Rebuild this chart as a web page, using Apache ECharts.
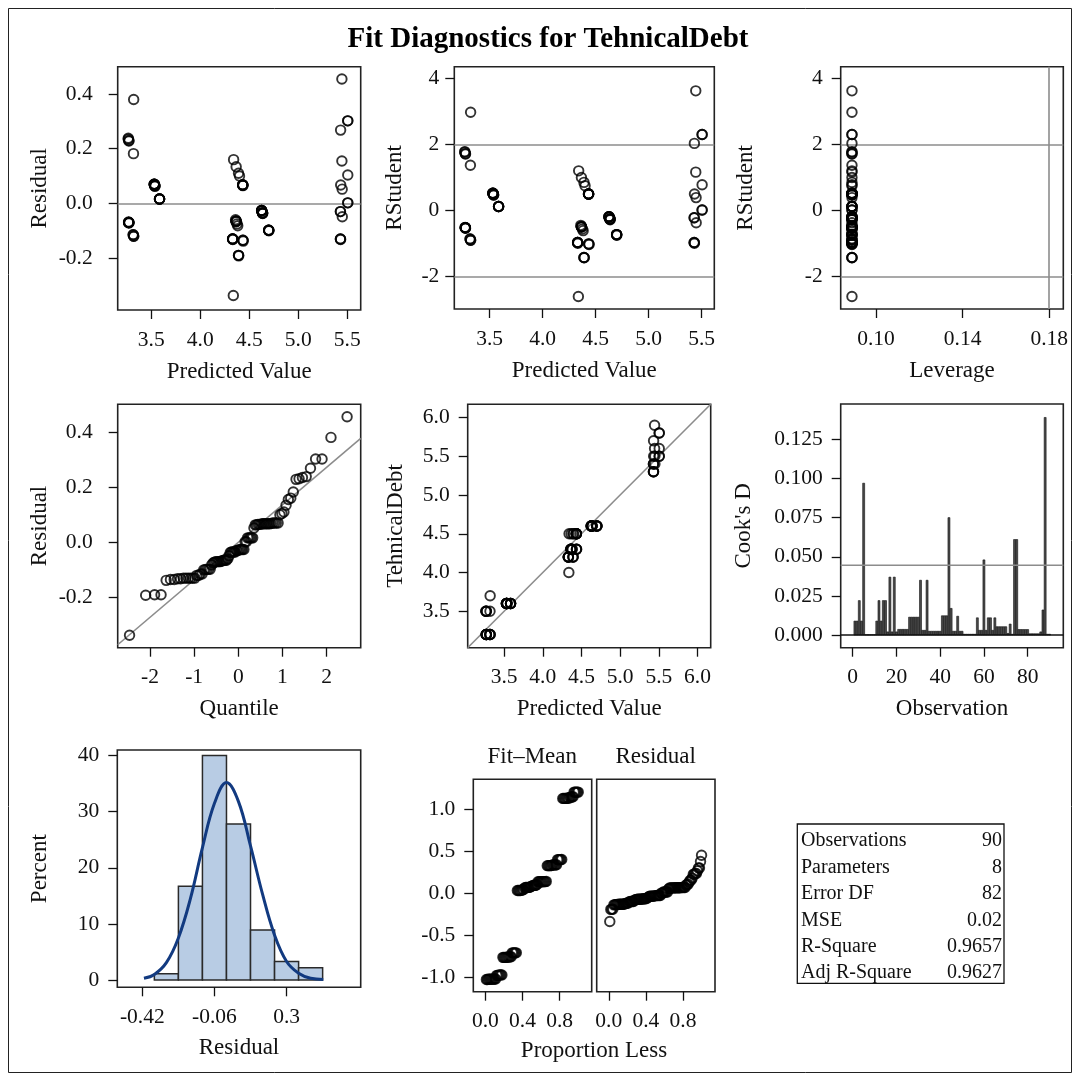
<!DOCTYPE html>
<html><head><meta charset="utf-8">
<script src="https://cdn.jsdelivr.net/npm/echarts@6/dist/echarts.min.js"></script>
<style>html,body{margin:0;padding:0;background:#fff}#c{width:1080px;height:1081px}</style>
</head><body><div id="c"></div>
<script>
// ---------------- DATA ----------------
const obsPred = [
 3.32,3.32,3.318,4.39,3.32, 3.584,3.584,3.584,3.584,3.584,
 3.315,4.39,3.315,4.39,4.392, 4.433,3.265,4.433,3.265,4.36,
 3.27,3.27,3.272,3.27,3.268, 4.33,4.33,4.332,4.33,4.33,
 3.272,3.535,3.537,3.27,4.365, 4.365,4.367,4.433,4.433,4.435,
 4.366,4.435,4.435,4.337,5.445, 4.365,4.375,4.438,4.382,4.433,
 4.626,4.626,4.628,4.626,4.626, 5.505,5.43,3.535,3.537,5.432,
 5.433,5.43,5.432,5.448,5.505, 4.698,4.698,4.70,4.698,4.698,
 5.449,4.40,5.505,5.505,5.505, 3.53,3.53,3.532,3.53,3.53,
 4.635,4.635,4.637,4.635,4.635, 3.27,4.34,5.445,5.43,5.43
];
const obsResid = [
 -0.12,-0.12,0.182,0.11,0.38, 0.016,0.016,0.016,0.016,0.016,
 -0.115,-0.19,-0.115,-0.19,-0.192, 0.067,0.235,0.067,0.238,-0.06,
 -0.07,-0.07,-0.072,-0.07,-0.068, -0.13,-0.13,-0.132,-0.13,-0.13,
 0.228,0.065,0.063,0.23,-0.065, -0.065,-0.067,0.067,0.067,0.065,
 0.134,-0.135,-0.135,-0.337,0.155, -0.065,-0.075,-0.138,-0.082,0.067,
 -0.026,-0.026,-0.028,-0.026,-0.026, 0.002,-0.13,0.065,0.063,0.268,
 0.067,-0.13,-0.132,0.052,0.104, -0.098,-0.098,-0.10,-0.098,-0.098,
 -0.049,0.10,0.002,0.302,0.302, 0.07,0.07,0.068,0.07,0.07,
 -0.035,-0.035,-0.037,-0.035,-0.035, -0.07,0.16,0.455,-0.03,-0.03
];
const obsRStudent = [
 -0.90,-0.90,1.37,0.85,2.97, 0.12,0.12,0.12,0.12,0.12,
 -0.86,-1.42,-0.86,-1.42,-1.43, 0.50,1.76,0.50,1.78,-0.45,
 -0.52,-0.52,-0.54,-0.52,-0.51, -0.97,-0.97,-0.99,-0.97,-0.97,
 1.71,0.49,0.47,1.72,-0.49, -0.49,-0.50,0.50,0.50,0.49,
 1.00,-1.01,-1.01,-2.60,1.16, -0.49,-0.56,-1.03,-0.61,0.50,
 -0.19,-0.19,-0.21,-0.19,-0.19, 0.015,-0.97,0.49,0.47,2.03,
 0.50,-0.97,-0.99,0.39,0.78, -0.73,-0.73,-0.75,-0.73,-0.73,
 -0.37,0.75,0.015,2.30,2.30, 0.52,0.52,0.51,0.52,0.52,
 -0.26,-0.26,-0.28,-0.26,-0.26, -0.52,1.20,3.62,-0.22,-0.22
];
const obsLeverage = [
 0.0889,0.0889,0.0889,0.0889,0.0889,0.0889,0.0889,0.0889,0.0889,0.0889,
 0.0889,0.0889,0.0889,0.0889,0.0889,0.0889,0.0889,0.0889,0.0889,0.0889,
 0.0889,0.0889,0.0889,0.0889,0.0889,0.0889,0.0889,0.0889,0.0889,0.0889,
 0.0889,0.0889,0.0889,0.0889,0.0889,0.0889,0.0889,0.0889,0.0889,0.0889,
 0.0889,0.0889,0.0889,0.0889,0.0889,0.0889,0.0889,0.0889,0.0889,0.0889,
 0.0889,0.0889,0.0889,0.0889,0.0889,0.0889,0.0889,0.0889,0.0889,0.0889,
 0.0889,0.0889,0.0889,0.0889,0.0889,0.0889,0.0889,0.0889,0.0889,0.0889,
 0.0889,0.0889,0.0889,0.0889,0.0889,0.0889,0.0889,0.0889,0.0889,0.0889,
 0.0889,0.0889,0.0889,0.0889,0.0889,0.0889,0.0889,0.0889,0.0889,0.0889
];
const obsCooksD = [
 0.0089,0.0089,0.022,0.0089,0.097, 0.0002,0.0002,0.0002,0.0002,0.0002,
 0.0089,0.022,0.0089,0.022,0.022, 0.002,0.037,0.002,0.037,0.002,
 0.0036,0.0036,0.0036,0.0036,0.0036, 0.0114,0.0114,0.0114,0.0114,0.0114,
 0.035,0.003,0.003,0.035,0.0024, 0.0024,0.0024,0.0024,0.0024,0.0024,
 0.0123,0.0123,0.0123,0.075,0.017, 0.0024,0.0024,0.012,0.0024,0.0024,
 0.0005,0.0005,0.0005,0.0005,0.0005, 0.0005,0.011,0.003,0.003,0.048,
 0.003,0.011,0.011,0.003,0.011, 0.0053,0.0053,0.0053,0.0053,0.0053,
 0.001,0.007,0.0005,0.061,0.061, 0.0035,0.0035,0.0035,0.0035,0.0035,
 0.0008,0.0008,0.0008,0.0008,0.0008, 0.002,0.016,0.139,0.0005,0.0005
];
const obsActual = [
 3.2,3.2,3.5,4.5,3.7, 3.6,3.6,3.6,3.6,3.6,
 3.2,4.2,3.2,4.2,4.2, 4.5,3.5,4.5,3.5,4.3,
 3.2,3.2,3.2,3.2,3.2, 4.2,4.2,4.2,4.2,4.2,
 3.5,3.6,3.6,3.5,4.3, 4.3,4.3,4.5,4.5,4.5,
 4.5,4.3,4.3,4.0,5.6, 4.3,4.3,4.3,4.3,4.5,
 4.6,4.6,4.6,4.6,4.6, 5.5,5.3,3.6,3.6,5.7,
 5.5,5.3,5.3,5.5,5.6, 4.6,4.6,4.6,4.6,4.6,
 5.4,4.5,5.5,5.8,5.8, 3.6,3.6,3.6,3.6,3.6,
 4.6,4.6,4.6,4.6,4.6, 3.2,4.5,5.9,5.4,5.4
];
// normal quantiles of the Q-Q panel (x positions of the ranked residuals)
const qqQuantile = [
 -2.462,-2.097,-1.895,-1.749,-1.633,-1.536,-1.451,-1.375,-1.307,-1.244,
 -1.187,-1.132,-1.080,-1.032,-0.986,-0.942,-0.900,-0.859,-0.819,-0.781,
 -0.744,-0.708,-0.672,-0.638,-0.604,-0.571,-0.539,-0.507,-0.476,-0.445,
 -0.414,-0.384,-0.354,-0.325,-0.296,-0.267,-0.238,-0.210,-0.182,-0.154,
 -0.126,-0.097,-0.070,-0.042,-0.014,0.014,0.042,0.070,0.097,0.126,
 0.154,0.182,0.210,0.238,0.267,0.296,0.325,0.354,0.384,0.414,
 0.445,0.476,0.507,0.539,0.571,0.604,0.638,0.672,0.708,0.744,
 0.781,0.819,0.859,0.900,0.942,0.986,1.032,1.080,1.132,1.187,
 1.244,1.307,1.375,1.451,1.536,1.633,1.749,1.895,2.097,2.462
];
const qqLineSlope = 0.136;      // reference line (sigma)
const rstudRefLines = [-2, 2];
const leverageCutoff = 0.1778;
const cooksCutoff = 0.0446;

const histMid = [-0.30,-0.18,-0.06,0.06,0.18,0.30,0.42];
const histPct = [1.1,16.7,40.0,27.8,8.9,3.3,2.2];
const histBinWidth = 0.12;
const normCurveX = [-0.412,-0.36,-0.30,-0.24,-0.18,-0.12,-0.06,0.0,0.06,0.12,0.18,0.24,0.30,0.36,0.42,0.483];
const normCurveY = [0.3,1.0,3.1,7.5,14.5,23.6,31.5,35.2,31.8,23.9,15.3,8.0,3.3,1.2,0.3,0.1];

const statLabels = ['Observations','Parameters','Error DF','MSE','R-Square','Adj R-Square'];
const statValues = ['90','8','82','0.02','0.9657','0.9627'];

// tick labels
const predTicks = [3.5,4.0,4.5,5.0,5.5];
const residTicks = [-0.2,0.0,0.2,0.4];
const rstudTicks = [-2,0,2,4];
const levTicks = [0.10,0.14,0.18];
const qqTicks = [-2,-1,0,1,2];
const p5Ticks = [3.5,4.0,4.5,5.0,5.5,6.0];
const obsTicks = [0,20,40,60,80];
const cookTicks = [0,0.025,0.05,0.075,0.1,0.125];
const histXTicks = [-0.42,-0.06,0.3];
const pctTicks = [0,10,20,30,40];
const propTicks = [0,0.4,0.8];
const fmTicks = [-1,-0.5,0,0.5,1];

// ---------------- CHART ----------------
const FONT = '"Liberation Serif","Times New Roman",serif';
const TFS = 21.5, NFS = 23, INK = '#111';
const n = obsPred.length;
const sortedResid = obsResid.slice().sort((a,b)=>a-b);
const meanPred = obsPred.reduce((s,v)=>s+v,0)/n;
const sortedFitMean = obsPred.map(v=>v-meanPred).sort((a,b)=>a-b);
const propLess = sortedResid.map((v,i)=>(i+1)/n);

const grids = [
 {left:117.7, top:66.7, width:243, height:243.3},
 {left:454.3, top:66.7, width:260, height:242.3},
 {left:840.7, top:66.7, width:222.6, height:242.3},
 {left:117.7, top:404.3, width:243, height:243.4},
 {left:467.7, top:404.3, width:243, height:243.4},
 {left:840.7, top:404.0, width:222.6, height:243.7},
 {left:117.3, top:750.0, width:243.4, height:237.3},
 {left:473.3, top:779.3, width:118.4, height:212.4},
 {left:596.7, top:779.3, width:118.3, height:212.4}
];

function ax(gi, min, max, ticks, fmt, name, gap, margin, showLabels) {
  const show = showLabels !== false;
  return {
    type:'value', gridIndex:gi, min:min, max:max, scale:true,
    name: name || '', nameLocation:'middle', nameGap: gap || 0,
    nameTextStyle:{fontFamily:FONT, fontSize:NFS, color:INK},
    axisLine:{show:false, onZero:false},
    axisTick:{show:show, length:9, inside:false, customValues:ticks, lineStyle:{color:INK, width:1.3}},
    axisLabel:{show:show, customValues:ticks, formatter:fmt, margin:margin, fontFamily:FONT, fontSize:TFS, color:INK},
    splitLine:{show:false}
  };
}
const f1 = v=>Number(v).toFixed(1), f2 = v=>Number(v).toFixed(2), f3 = v=>Number(v).toFixed(3), f0 = v=>String(Math.round(v)), fs = v=>String(v);

const xAxes = [
 ax(0, 3.157, 5.637, predTicks, f1, 'Predicted Value', 50, 19),
 ax(1, 3.166, 5.62, predTicks, f1, 'Predicted Value', 50, 19),
 ax(2, 0.0837, 0.1865, levTicks, f2, 'Leverage', 50, 19),
 ax(3, -2.73, 2.77, qqTicks, f0, 'Quantile', 50, 19),
 ax(4, 3.03, 6.17, p5Ticks, f1, 'Predicted Value', 50, 19),
 ax(5, -5.5, 96.3, obsTicks, f0, 'Observation', 50, 19),
 ax(6, -0.545, 0.670, histXTicks, fs, 'Residual', 49, 19),
 ax(7, -0.13, 1.145, propTicks, f1, '', 0, 19),
 ax(8, -0.13, 1.145, propTicks, f1, '', 0, 19)
];
const yAxes = [
 ax(0, -0.39, 0.5, residTicks, f1, 'Residual', 66, 25),
 ax(1, -2.98, 4.35, rstudTicks, f0, 'RStudent', 48, 15),
 ax(2, -2.98, 4.35, rstudTicks, f0, 'RStudent', 83, 18),
 ax(3, -0.382, 0.5, residTicks, f1, 'Residual', 66, 25),
 ax(4, 3.03, 6.17, p5Ticks, f1, 'TehnicalDebt', 60, 18),
 ax(5, -0.0081, 0.1476, cookTicks, f3, "Cook's D", 85, 18),
 ax(6, -1.3, 41, pctTicks, f0, 'Percent', 66, 18),
 ax(7, -1.176, 1.363, fmTicks, f1, '', 0, 18),
 ax(8, -1.176, 1.363, fmTicks, f1, '', 0, 18, false)
];

const circle = {color:'rgba(0,0,0,0)', borderColor:'#000', borderWidth:1.9};
function scatter(i, data) {
  return {type:'scatter', xAxisIndex:i, yAxisIndex:i, data:data, symbol:'circle', symbolSize:9.5,
          itemStyle:circle, silent:true, z:5};
}
function refLines(items, color, width) {
  return {silent:true, symbol:['none','none'], label:{show:false}, animation:false,
          lineStyle:{color:color||'#8c8c8c', width:width||1.6, type:'solid'}, data:items};
}
function hLine(i, y, x0, x1, color) {
  return {type:'line', xAxisIndex:i, yAxisIndex:i, data:[[x0,y],[x1,y]], showSymbol:false, symbol:'none',
          lineStyle:{color:color||'#8c8c8c', width:1.6}, silent:true, z:4};
}
const zip = (a,b)=>a.map((v,i)=>[v,b[i]]);

const s1 = scatter(0, zip(obsPred, obsResid)); s1.markLine = refLines([{yAxis:0}]);
const s2 = scatter(1, zip(obsPred, obsRStudent)); s2.markLine = refLines(rstudRefLines.map(v=>({yAxis:v})));
const s3 = scatter(2, zip(obsLeverage, obsRStudent));
s3.markLine = refLines(rstudRefLines.map(v=>({yAxis:v})).concat([{xAxis:leverageCutoff}]));
const s4 = scatter(3, zip(qqQuantile, sortedResid));
const s5 = scatter(4, zip(obsPred, obsActual));

const qxMin = xAxes[3].min, qxMax = xAxes[3].max;
const pMin = xAxes[4].min, pMax = xAxes[4].max;
const oMin = xAxes[5].min, oMax = xAxes[5].max;

const series = [
 s1, s2, s3,
 {type:'line', xAxisIndex:3, yAxisIndex:3, data:[[qxMin, qqLineSlope*qxMin],[qxMax, qqLineSlope*qxMax]],
  showSymbol:false, symbol:'none', lineStyle:{color:'#8c8c8c', width:1.6}, silent:true, z:2},
 s4,
 {type:'line', xAxisIndex:4, yAxisIndex:4, data:[[pMin,pMin],[pMax,pMax]],
  showSymbol:false, symbol:'none', lineStyle:{color:'#8c8c8c', width:1.6}, silent:true, z:2},
 s5,
 {type:'custom', coordinateSystem:'cartesian2d', xAxisIndex:5, yAxisIndex:5, silent:true, z:3,
  data: obsCooksD.map((v,i)=>[i+1, v]),
  renderItem:function(params, api){
    const x = api.value(0), y = api.value(1);
    const p0 = api.coord([x-0.45, y]), p1 = api.coord([x+0.45, 0]);
    return {type:'rect', shape:{x:p0[0], y:p0[1], width:p1[0]-p0[0], height:p1[1]-p0[1]},
            style:{fill:'#4a4a4a', stroke:'#111', lineWidth:0.6}};
  }
 },
 hLine(5, cooksCutoff, oMin, oMax, '#8c8c8c'),
 hLine(5, 0, oMin, oMax, '#111'),
 {type:'custom', coordinateSystem:'cartesian2d', xAxisIndex:6, yAxisIndex:6, silent:true, z:2,
  data: zip(histMid, histPct),
  renderItem:function(params, api){
    const m = api.value(0), h = api.value(1);
    const p0 = api.coord([m-histBinWidth/2, h]), p1 = api.coord([m+histBinWidth/2, 0]);
    return {type:'rect', shape:{x:p0[0], y:p0[1], width:p1[0]-p0[0], height:p1[1]-p0[1]},
            style:{fill:'#b8cce4', stroke:'#2a2a2a', lineWidth:1.5}};
  }
 },
 {type:'line', xAxisIndex:6, yAxisIndex:6, data:zip(normCurveX, normCurveY), smooth:0.4,
  showSymbol:false, symbol:'none', lineStyle:{color:'#123a80', width:3}, silent:true, z:4},
 scatter(7, zip(propLess, sortedFitMean)),
 scatter(8, zip(propLess, sortedResid))
];

const graphic = [
 {type:'rect', shape:{x:8.5, y:8.5, width:1063, height:1064}, style:{fill:'none', stroke:'#222', lineWidth:1}, silent:true},
 {type:'text', x:548, y:40, style:{text:'Fit Diagnostics for TehnicalDebt', font:'bold 29px '+FONT, fill:'#000', textAlign:'center', textVerticalAlign:'middle'}, silent:true},
 {type:'text', x:532.3, y:757, style:{text:'Fit\u2013Mean', font:NFS+'px '+FONT, fill:INK, textAlign:'center', textVerticalAlign:'middle'}, silent:true},
 {type:'text', x:655.7, y:757, style:{text:'Residual', font:NFS+'px '+FONT, fill:INK, textAlign:'center', textVerticalAlign:'middle'}, silent:true},
 {type:'text', x:594, y:1051, style:{text:'Proportion Less', font:NFS+'px '+FONT, fill:INK, textAlign:'center', textVerticalAlign:'middle'}, silent:true},
 {type:'rect', shape:{x:797.3, y:824, width:206.7, height:159.3}, style:{fill:'none', stroke:'#111', lineWidth:1.3}, silent:true}
];
const rowY = [841, 867.5, 894, 920.5, 947, 973];
statLabels.forEach((lab,i)=>{
  graphic.push({type:'text', x:801, y:rowY[i], style:{text:lab, font:'20px '+FONT, fill:INK, textAlign:'left', textVerticalAlign:'middle'}, silent:true});
  graphic.push({type:'text', x:1002, y:rowY[i], style:{text:statValues[i], font:'20px '+FONT, fill:INK, textAlign:'right', textVerticalAlign:'middle'}, silent:true});
});

const option = {
  animation:false, backgroundColor:'#fff', textStyle:{fontFamily:FONT},
  grid: grids.map(g=>Object.assign({show:true, borderColor:'#222', borderWidth:1.6, backgroundColor:'transparent', containLabel:false, outerBoundsMode:'none'}, g)),
  xAxis:xAxes, yAxis:yAxes, series:series, graphic:graphic
};
const chart = echarts.init(document.getElementById('c'), null, {renderer:'canvas'});
chart.setOption(option);
</script></body></html>
